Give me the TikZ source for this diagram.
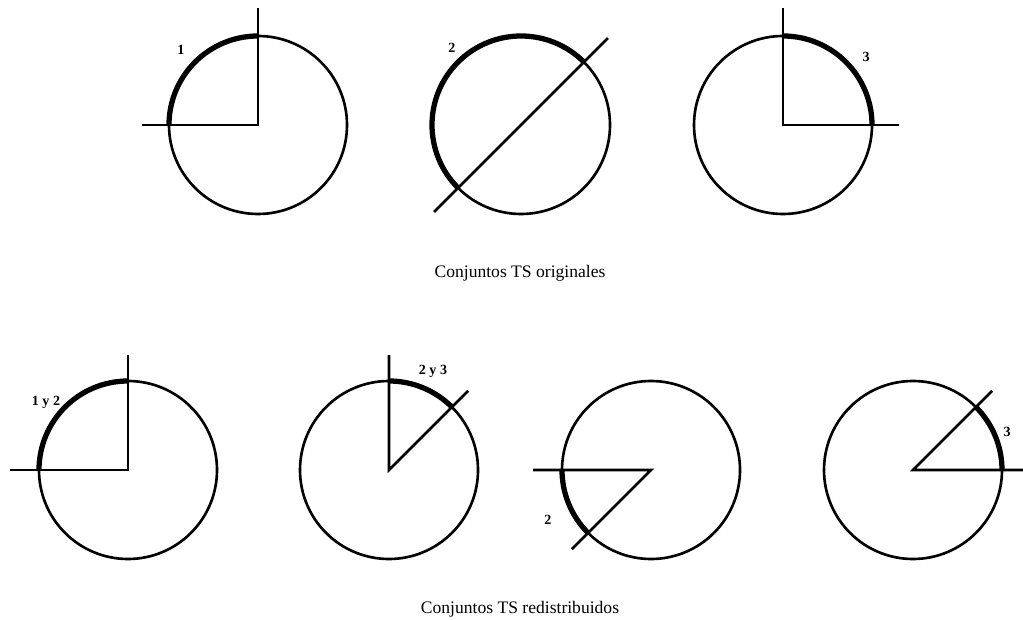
\documentclass[tikz,border=0pt]{standalone}
\usepackage{fontspec}
\setmainfont{Liberation Serif}
\usepackage{tikz}
\usetikzlibrary{calc}
\tikzset{
  ringline/.style={draw=black,line width=1.5pt},
  boldarc/.style={draw=black,line width=3pt},
  setlabel/.style={anchor=base,inner sep=0pt,font=\fontsize{8}{9}\selectfont\bfseries},
  captiontext/.style={anchor=base,inner sep=0pt,font=\fontsize{10}{12}\selectfont}
}
\begin{document}
\begin{tikzpicture}[x=0.02cm,y=0.02cm]
\useasboundingbox (0,0) rectangle (1023,619);
% centres of the seven circles
\foreach \n/\x/\y in {c1/258/494,c2/521/494,c3/783/494,c4/128/149,c5/389/149,c6/651/149,c7/913/149}{
  \coordinate (\n) at (\x,\y);
  \draw[ringline] (\n) circle[radius=89];
}
% original sets
\draw[ringline] (c1) ++(180:116) -- (c1) -- ++(90:117);
\draw[boldarc] (c1) ++(90:89) arc[start angle=90,end angle=180,radius=89];
\draw[ringline] (c2) ++(225:123) -- ++(45:246);
\draw[boldarc] (c2) ++(45:89) arc[start angle=45,end angle=225,radius=89];
\draw[ringline] (c3) ++(90:117) -- (c3) -- ++(0:116);
\draw[boldarc] (c3) ++(0:89) arc[start angle=0,end angle=90,radius=89];
\node[setlabel] (l1) at (181,564) {1};
\node[setlabel] (l2) at (452,566) {2};
\node[setlabel] (l3) at (866,557) {3};
\node[captiontext] (cap1) at (520,341) {Conjuntos TS originales};
% redistributed sets
\draw[ringline] (c4) ++(180:118) -- (c4) -- ++(90:115);
\draw[boldarc] (c4) ++(90:89) arc[start angle=90,end angle=180,radius=89];
\draw[ringline] (c5) ++(90:115) -- (c5) -- ++(45:112);
\draw[boldarc] (c5) ++(45:89) arc[start angle=45,end angle=90,radius=89];
\draw[ringline] (c6) ++(180:118) -- (c6) -- ++(225:112);
\draw[boldarc] (c6) ++(180:89) arc[start angle=180,end angle=225,radius=89];
\draw[ringline] (c7) ++(45:112) -- (c7) -- ++(0:112);
\draw[boldarc] (c7) ++(0:89) arc[start angle=0,end angle=45,radius=89];
\node[setlabel] (l12) at (46,214) {1 y 2};
\node[setlabel] (l23) at (433,245) {2 y 3};
\node[setlabel] (l2b) at (548,95) {2};
\node[setlabel] (l3b) at (1007,183) {3};
\node[captiontext] (cap2) at (520,6) {Conjuntos TS redistribuidos};
\end{tikzpicture}
\end{document}
